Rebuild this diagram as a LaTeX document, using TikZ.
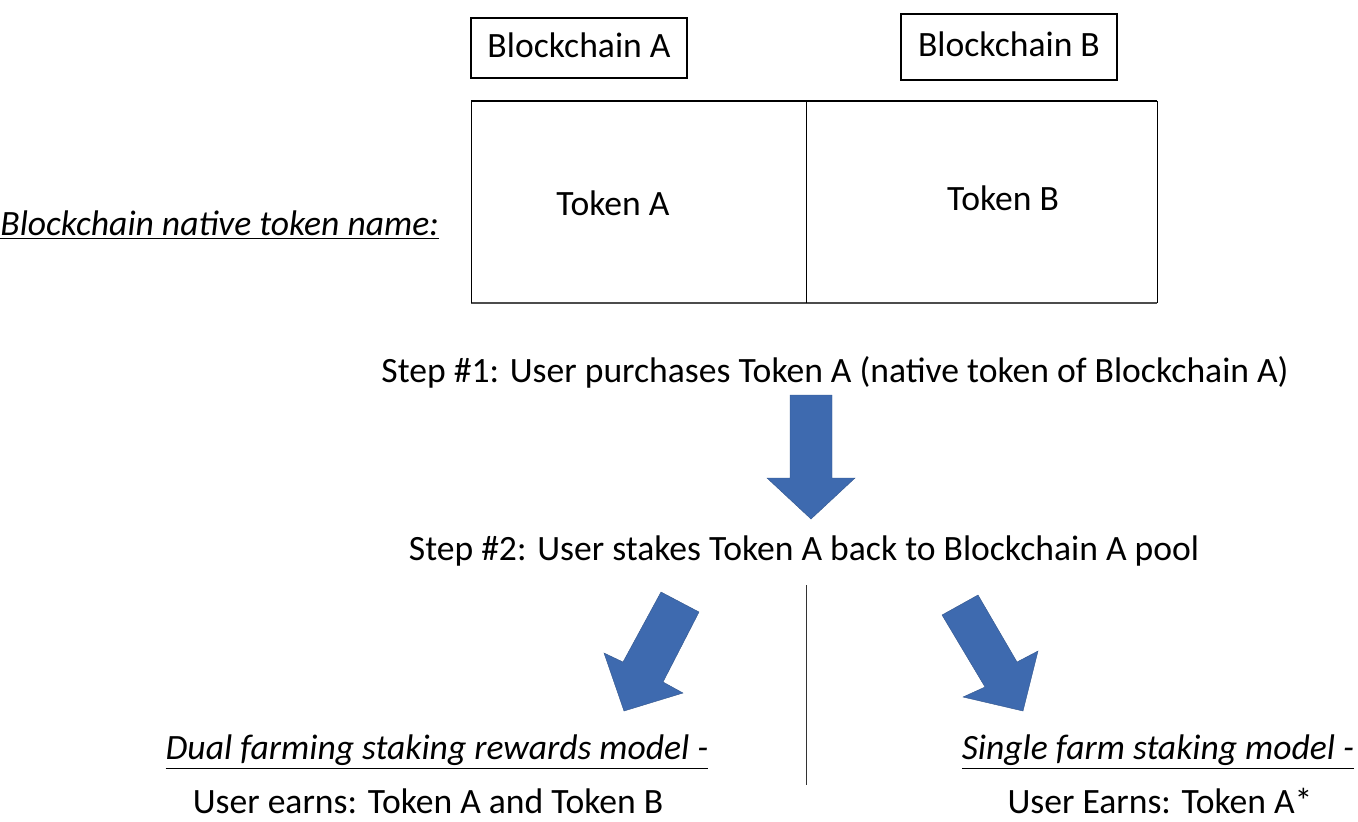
\documentclass[tikz,border=0pt]{standalone}
\usepackage{fontspec}
\setmainfont{Carlito}
\usetikzlibrary{positioning,calc}

\definecolor{arrowblue}{RGB}{62,106,175}

\tikzset{
  chainbox/.style={draw,thick,minimum width=108pt,minimum height=30pt,font=\fontsize{17.8}{20}\selectfont},
  plain/.style={inner sep=0pt,font=\fontsize{17.8}{20}\selectfont},
  heading/.style={inner sep=0pt,font=\fontsize{17.8}{20}\selectfont\itshape},
  blockarrow/.style={fill=arrowblue,draw=arrowblue!80!black,very thin}
}

\begin{document}
\begin{tikzpicture}[x=0.5pt,y=-0.5pt]

\useasboundingbox (0,0) rectangle (1358,821);

% Blockchain name boxes
\node[chainbox] (chainA) at (579,48) {\raisebox{3pt}{Blockchain A}};
\node[chainbox,minimum height=33pt] (chainB) at (1009,47) {\raisebox{3pt}{Blockchain B}};

% Table of native tokens
\coordinate (TL) at (471,101);
\coordinate (TR) at (1157,101);
\coordinate (BL) at (471,303);
\coordinate (BR) at (1157,303);
\coordinate (TM) at (806,101);
\coordinate (BM) at (806,303);
\draw[thick] (TL) -- (TR);
\draw[thick,black!70] (BL) -- (BR);
\draw (TL) -- (BL);
\draw (TR) -- (BR);
\draw (TM) -- (BM);

\node[plain] (tokA) at (613,203) {Token A};
\node[plain] (tokB) at (1003,198) {Token B};
\node[heading,anchor=west] (native) at (0,225) {\underline{Blockchain native token name:}};

% Steps
\node[plain] (step1) at (835,372) {Step \#1: User purchases Token A (native token of Blockchain A)};
\node[plain] (step2) at (804,551) {Step \#2: User stakes Token A back to Blockchain A pool};

% Down arrow
\fill[blockarrow] (790,395) -- (832,395) -- (832,478) -- (855,478) -- (811,519)
  -- (767,478) -- (790,478) -- cycle;

% Diagonal arrows
\fill[blockarrow] (661,592) -- (699,612) -- (663,682) -- (683,693) -- (624,711)
  -- (604,653) -- (623,662) -- cycle;
\fill[blockarrow] (942,615) -- (978,595) -- (1017,662) -- (1038,651) -- (1023,711)
  -- (963,697) -- (985,687) -- cycle;

% Divider
\coordinate (divtop) at (806,585);
\coordinate (divbot) at (806,785);
\draw[black!80] (divtop) -- (divbot);

% Models
\node[heading] (dual) at (437,752) {\underline{Dual farming staking rewards model -}};
\node[plain] (dualearn) at (428,801) {User earns: Token A and Token B};
\node[heading] (single) at (1158,752) {\underline{Single farm staking model -}};
\node[plain] (singleearn) at (1160,801) {User Earns: Token A*};

\end{tikzpicture}
\end{document}
